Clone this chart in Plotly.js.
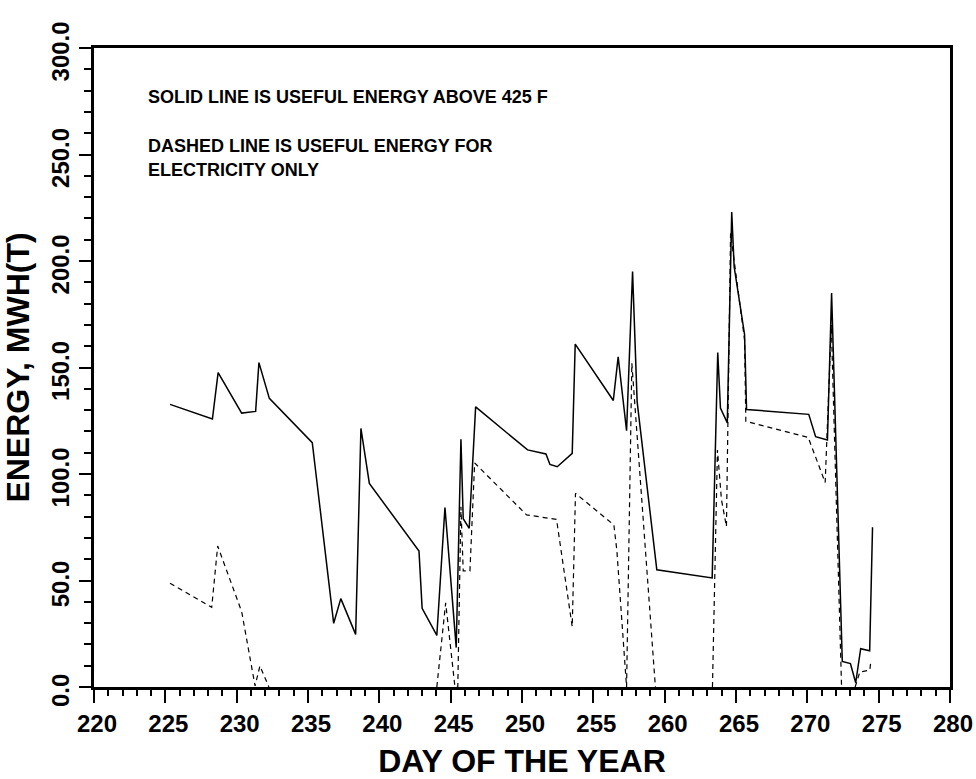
<!DOCTYPE html>
<html>
<head>
<meta charset="utf-8">
<script src="https://cdn.plot.ly/plotly-3.0.1.min.js"></script>
<style>html,body{margin:0;padding:0;background:#fff;}</style>
</head>
<body>
<div id="chart" style="width:976px;height:779px;"></div>
<script>
// Solid line: useful energy above 425 F
const daySolid = [225.33, 228.3, 228.7, 230.35, 231.33, 231.56, 232.29, 235.3, 235.5, 236.8, 237.3, 238.34, 238.71, 239.3, 242.78, 243.0, 244.03, 244.6, 245.39, 245.72, 245.88, 246.3, 246.75, 250.39, 251.68, 251.96, 252.47, 253.52, 253.73, 256.4, 256.74, 257.33, 257.75, 258.07, 259.45, 263.33, 263.72, 263.91, 264.39, 264.7, 264.87, 265.6, 265.74, 270.1, 270.58, 271.41, 271.7, 272.45, 273.02, 273.39, 273.74, 274.37, 274.57];
const energySolid = [132.7, 125.8, 147.6, 128.6, 129.4, 152.3, 135.5, 114.7, 103.4, 29.9, 41.5, 24.7, 121.4, 95.6, 63.8, 36.9, 24.2, 84.3, 18.5, 116.3, 79.0, 74.5, 131.5, 111.3, 109.4, 104.5, 103.4, 109.7, 161.0, 134.5, 155.0, 120.3, 195.0, 134.0, 55.0, 51.2, 157.0, 131.0, 124.0, 223.0, 197.3, 165.5, 130.3, 128.0, 117.5, 116.0, 185.0, 12.0, 11.0, 2.0, 18.0, 17.0, 75.0];

// Dashed line: useful energy for electricity only
// (null = stretches where the curve lies on zero and is hidden by the axis)
const dayDashed = [225.33, 228.25, 228.67, 230.35, 231.29, 231.63, 232.26, 238.0, 244.03, 244.65, 245.3, 245.5, 245.72, 245.88, 246.35, 246.68, 250.32, 252.42, 253.52, 253.75, 256.44, 256.65, 257.33, 257.7, 259.35, 261.0, 263.35, 263.7, 263.98, 264.33, 264.62, 265.6, 265.69, 270.06, 271.25, 271.68, 272.4, 273.0, 273.35, 273.68, 274.38, 274.45];
const energyDashed = [48.7, 37.4, 66.2, 35.4, 0.5, 9.9, 0.0, null, 0.0, 39.5, 0.0, 0.0, 84.6, 54.5, 54.5, 105.2, 80.8, 78.7, 28.3, 90.9, 76.1, 64.0, 0.0, 152.0, 0.0, null, 0.0, 111.3, 88.0, 75.3, 213.0, 163.0, 124.7, 117.2, 96.0, 170.0, 0.0, null, 0.0, 7.0, 8.0, 12.0];

const noteLines = [
  "SOLID LINE IS USEFUL ENERGY ABOVE 425 F",
  "DASHED LINE IS USEFUL ENERGY FOR",
  "ELECTRICITY ONLY"
];
const xTitle = "DAY OF THE YEAR";
const yTitle = "ENERGY, MWH(T)";

const FONT = "Liberation Sans, Arial, sans-serif";

const traces = [
  {x: daySolid, y: energySolid, type: "scatter", mode: "lines",
   line: {color: "black", width: 1.5}, hoverinfo: "skip"},
  {x: dayDashed, y: energyDashed, type: "scatter", mode: "lines", connectgaps: false,
   line: {color: "black", width: 1.2, dash: "5px,4px"}, hoverinfo: "skip"}
];

const noteY = [0.923, 0.847, 0.809];
const annotations = noteLines.map((t, i) => ({
  text: t, xref: "paper", yref: "paper", x: 0.061, y: noteY[i],
  xanchor: "left", yanchor: "middle", showarrow: false,
  font: {family: FONT, size: 18, weight: "bold", color: "black"}
}));

const layout = {
  width: 976, height: 779,
  margin: {l: 94, r: 26, t: 48, b: 92},
  paper_bgcolor: "white", plot_bgcolor: "white",
  showlegend: false,
  xaxis: {
    range: [220, 280], tickmode: "linear", tick0: 220, dtick: 5,
    ticks: "outside", ticklen: 13, tickwidth: 2, tickcolor: "black",
    showline: true, linewidth: 3, linecolor: "black", mirror: true,
    showgrid: false, zeroline: false, ticklabelshift: 3,
    tickfont: {family: FONT, size: 24, weight: "bold", color: "black"},
    minor: {dtick: 1, ticks: "outside", ticklen: 6, tickwidth: 2, tickcolor: "black", showgrid: false},
    title: {text: xTitle, standoff: 18, font: {family: FONT, size: 32, weight: "bold", color: "black"}}
  },
  yaxis: {
    range: [0, 300], tickmode: "linear", tick0: 0, dtick: 50, tickformat: ".1f",
    tickangle: -90, ticklabelshift: 7,
    ticks: "outside", ticklen: 12, tickwidth: 2, tickcolor: "black",
    showline: true, linewidth: 3, linecolor: "black", mirror: true,
    showgrid: false, zeroline: false,
    tickfont: {family: FONT, size: 24, weight: "bold", color: "black"},
    minor: {dtick: 10, ticks: "outside", ticklen: 7, tickwidth: 2, tickcolor: "black", showgrid: false},
    title: {text: yTitle, standoff: 10, font: {family: FONT, size: 32, weight: "bold", color: "black"}}
  },
  annotations: annotations
};

Plotly.newPlot("chart", traces, layout, {staticPlot: true, displayModeBar: false});
</script>
</body>
</html>
